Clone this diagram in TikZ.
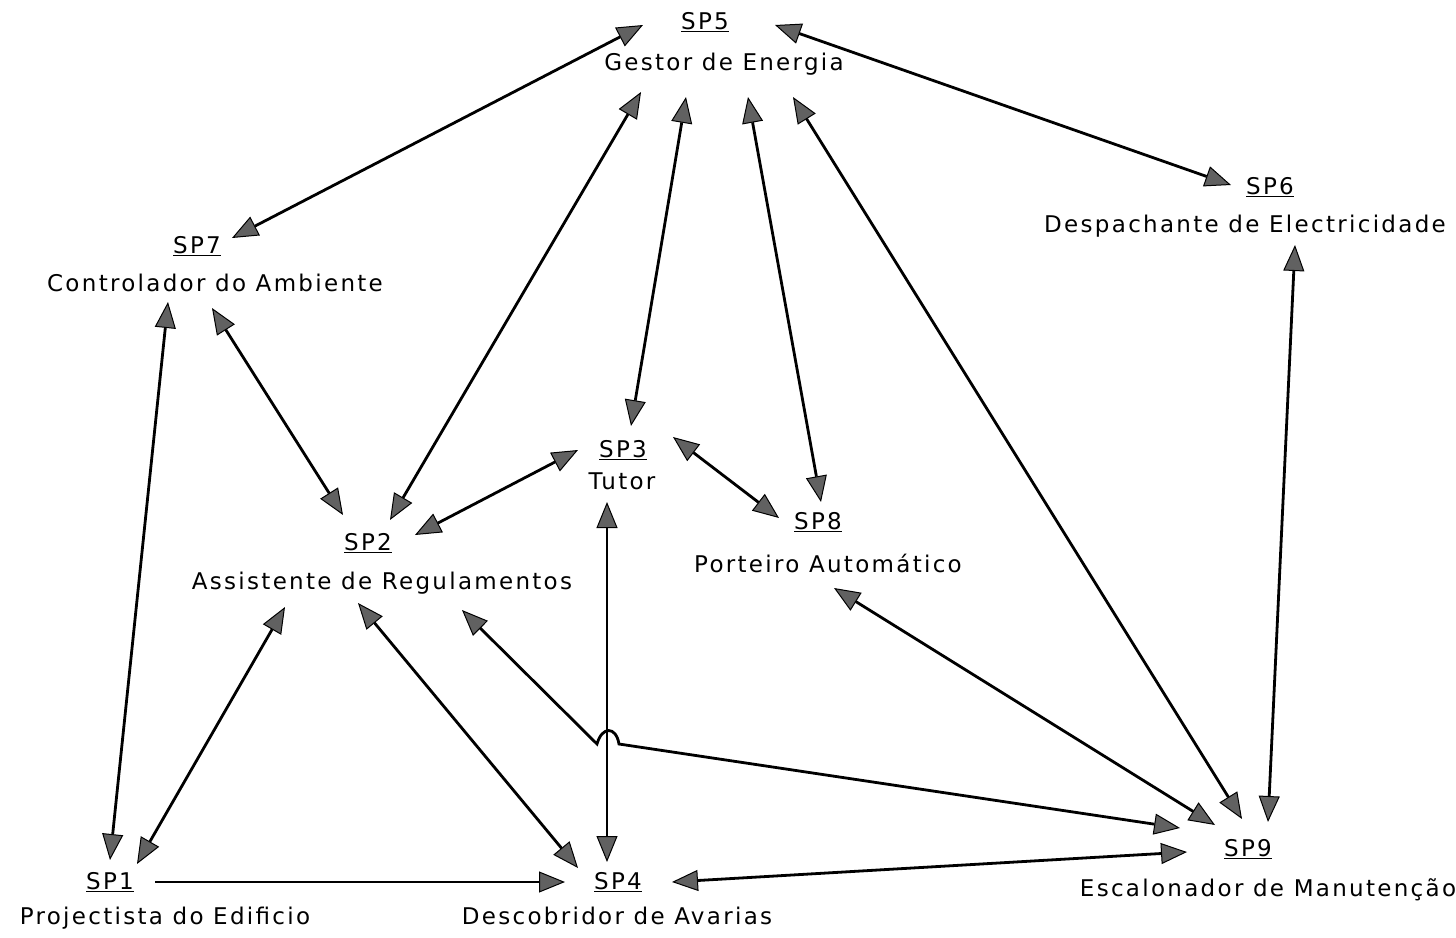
\documentclass[tikz,border=0pt]{standalone}
\usepackage{fontspec}
\setmainfont{DejaVu Sans}[LetterSpace=10]
\usetikzlibrary{arrows.meta,calc}
\begin{document}
\begin{tikzpicture}[x=1pt,y=-1pt,
  lbl/.style={inner sep=0pt,font=\fontsize{23}{27}\selectfont},
  biarrow/.style={line width=2.8pt,{Triangle[length=26pt,width=21pt,fill=black!62,line width=1pt]}-{Triangle[length=26pt,width=21pt,fill=black!62,line width=1pt]}},
  oneway/.style={line width=2.8pt,-{Triangle[length=26pt,width=21pt,fill=black!62,line width=1pt]}}]
\useasboundingbox[fill=white] (0,0) rectangle (1456,937);
% labels
\node[lbl] (sp5) at (705,22) {\underline{SP5}};
\node[lbl] (sp5d) at (724,64) {Gestor de Energia};
\node[lbl] (sp6) at (1270,187) {\underline{SP6}};
\node[lbl] (sp6d) at (1245,226) {Despachante de Electricidade};
\node[lbl] (sp7) at (197,246) {\underline{SP7}};
\node[lbl] (sp7d) at (215,283) {Controlador do Ambiente};
\node[lbl] (sp3) at (623,450) {\underline{SP3}};
\node[lbl] (sp3d) at (622,481) {Tutor};
\node[lbl] (sp2) at (368,543) {\underline{SP2}};
\node[lbl] (sp2d) at (382,583) {Assistente de Regulamentos};
\node[lbl] (sp8) at (818,522) {\underline{SP8}};
\node[lbl] (sp8d) at (828,563) {Porteiro Automático};
\node[lbl] (sp1) at (110,882) {\underline{SP1}};
\node[lbl] (sp1d) at (165,918) {Projectista do Edificio};
\node[lbl] (sp4) at (618,882) {\underline{SP4}};
\node[lbl] (sp4d) at (617,916) {Descobridor de Avarias};
\node[lbl] (sp9) at (1248,849) {\underline{SP9}};
\node[lbl] (sp9d) at (1268,890) {Escalonador de Manutenção};
% connectors
\draw[biarrow] ($(sp5)+(-62,3)$) -- ($(sp7)+(35,-8)$);
\draw[biarrow] ($(sp5)+(70,3)$) -- ($(sp6)+(-39,-2)$);
\draw[biarrow] ($(sp5d)+(-83,28)$) -- ($(sp2)+(22,-23)$);
\draw[biarrow] ($(sp5d)+(-38,33)$) -- ($(sp3)+(8,-24)$);
\draw[biarrow] ($(sp5d)+(24,33)$) -- ($(sp8)+(3,-20)$);
\draw[biarrow] ($(sp5d)+(69,33)$) -- ($(sp9)+(-6,-30)$);
\draw[biarrow] ($(sp6d)+(50,19)$) -- ($(sp9)+(20,-27)$);
\draw[biarrow] ($(sp7d)+(-47,19)$) -- ($(sp1)+(0,-22)$);
\draw[biarrow] ($(sp7d)+(-3,25)$) -- ($(sp2)+(-25,-28)$);
\draw[biarrow] ($(sp3)+(-45,0)$) -- ($(sp2)+(47,-8)$);
\draw[biarrow] ($(sp3)+(50,-13)$) -- ($(sp8)+(-39,-4)$);
\draw[biarrow] ($(sp3d)+(-15,21)$) -- ($(sp4)+(-11,-20)$);
\draw[biarrow] ($(sp2d)+(-97,24)$) -- ($(sp1)+(27,-18)$);
\draw[biarrow] ($(sp2d)+(-24,20)$) -- ($(sp4)+(-40,-14)$);
\draw[biarrow] ($(sp8d)+(6,25)$) -- ($(sp9)+(-33,-24)$);
\draw[biarrow] ($(sp4)+(54,0)$) -- ($(sp9)+(-61,3)$);
\draw[oneway] ($(sp1)+(45,0)$) -- ($(sp4)+(-53,0)$);
\draw[biarrow]
  ($(sp2d)+(80,27)$) -- ($(sp3d)+(-25,263)$) .. controls ($(sp3d)+(-20,245)$) and ($(sp3d)+(-6,245)$) .. ($(sp3d)+(-3,263)$) -- ($(sp9)+(-68,-21)$);
\end{tikzpicture}
\end{document}
